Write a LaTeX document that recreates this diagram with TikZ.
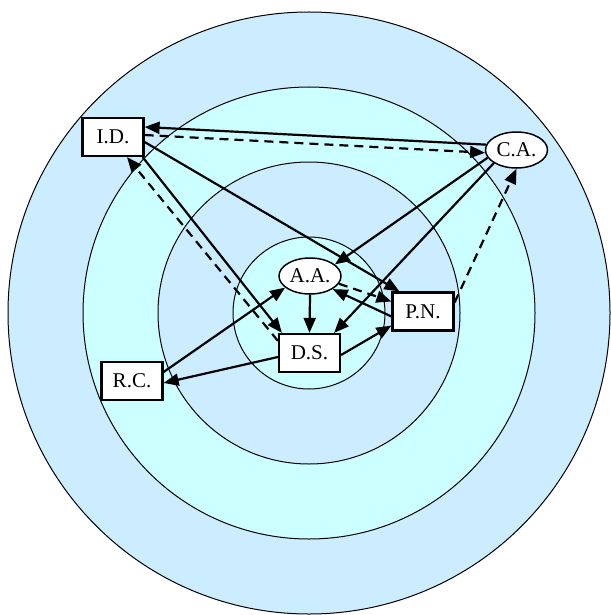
\documentclass[tikz,border=0pt]{standalone}
\usepackage{fontspec}
\setmainfont{Liberation Serif}
\usetikzlibrary{shapes.geometric, arrows.meta, calc}
\definecolor{ringblue}{RGB}{204,236,255}
\definecolor{ringcyan}{RGB}{204,255,255}

\begin{document}
\begin{tikzpicture}[
    x=0.5pt, y=-0.5pt,
    >={Triangle[length=7.5pt,width=6pt]},
    every node/.style={font=\fontsize{10.5}{12}\selectfont, fill=white, inner sep=0pt},
    box/.style={draw, line width=1.1pt, minimum width=30.5pt, minimum height=19pt},
    oval/.style={draw, line width=0.75pt, ellipse, minimum width=31pt, minimum height=18pt},
    ring/.style={draw, line width=0.5pt},
    link/.style={->, line width=1.1pt},
    back/.style={link, dash pattern=on 4.5pt off 3pt}
]
    \useasboundingbox (0,0) rectangle (610,615);

    % rings
    \draw[ring, fill=ringblue] (309,313) circle[radius=301];
    \draw[ring, fill=ringcyan] (309,313) circle[radius=226];
    \draw[ring, fill=ringblue] (309,313) circle[radius=151];
    \draw[ring, fill=ringcyan] (309,313) circle[radius=76];

    % actors
    \node[box] (id) at (113,137) {I.D.};
    \node[oval] (ca) at (516.5,150) {C.A.};
    \node[oval] (aa) at (310,276) {A.A.};
    \node[box] (pn) at (423,311.5) {P.N.};
    \node[box] (ds) at (309.5,353) {D.S.};
    \node[box] (rc) at (132,381) {R.C.};

    % links
    \draw[link] (ca.170) -- ($(id.east)+(0,-10)$);
    \draw[back] ($(id.east)+(0,-2)$) -- (ca.185);
    \draw[link] ($(id.east)+(0,5)$) -- ($(pn.north west)+(8,0)$);
    \draw[link] ($(id.south east)+(-2,0)$) -- ($(ds.north west)+(4,0)$);
    \draw[back] ($(ds.north west)+(0,8)$) -- ($(id.south)+(14,0)$);
    \draw[link] (ca.195) -- (aa.25);
    \draw[link] (ca.210) -- ($(ds.north east)+(-7,0)$);
    \draw[back] ($(pn.east)+(0,-9)$) -- (ca.south);
    \draw[back] (aa.-15) -- ($(pn.west)+(0,-10)$);
    \draw[link] ($(pn.west)+(0,5)$) -- (aa.-30);
    \draw[link] (aa.south) -- (ds.north);
    \draw[link] ($(ds.east)+(0,2)$) -- ($(pn.south west)+(0,-6)$);
    \draw[link] ($(rc.east)+(0,-9)$) -- (aa.205);
    \draw[link] ($(ds.west)+(0,4)$) -- ($(rc.east)+(0,2)$);
\end{tikzpicture}
\end{document}
